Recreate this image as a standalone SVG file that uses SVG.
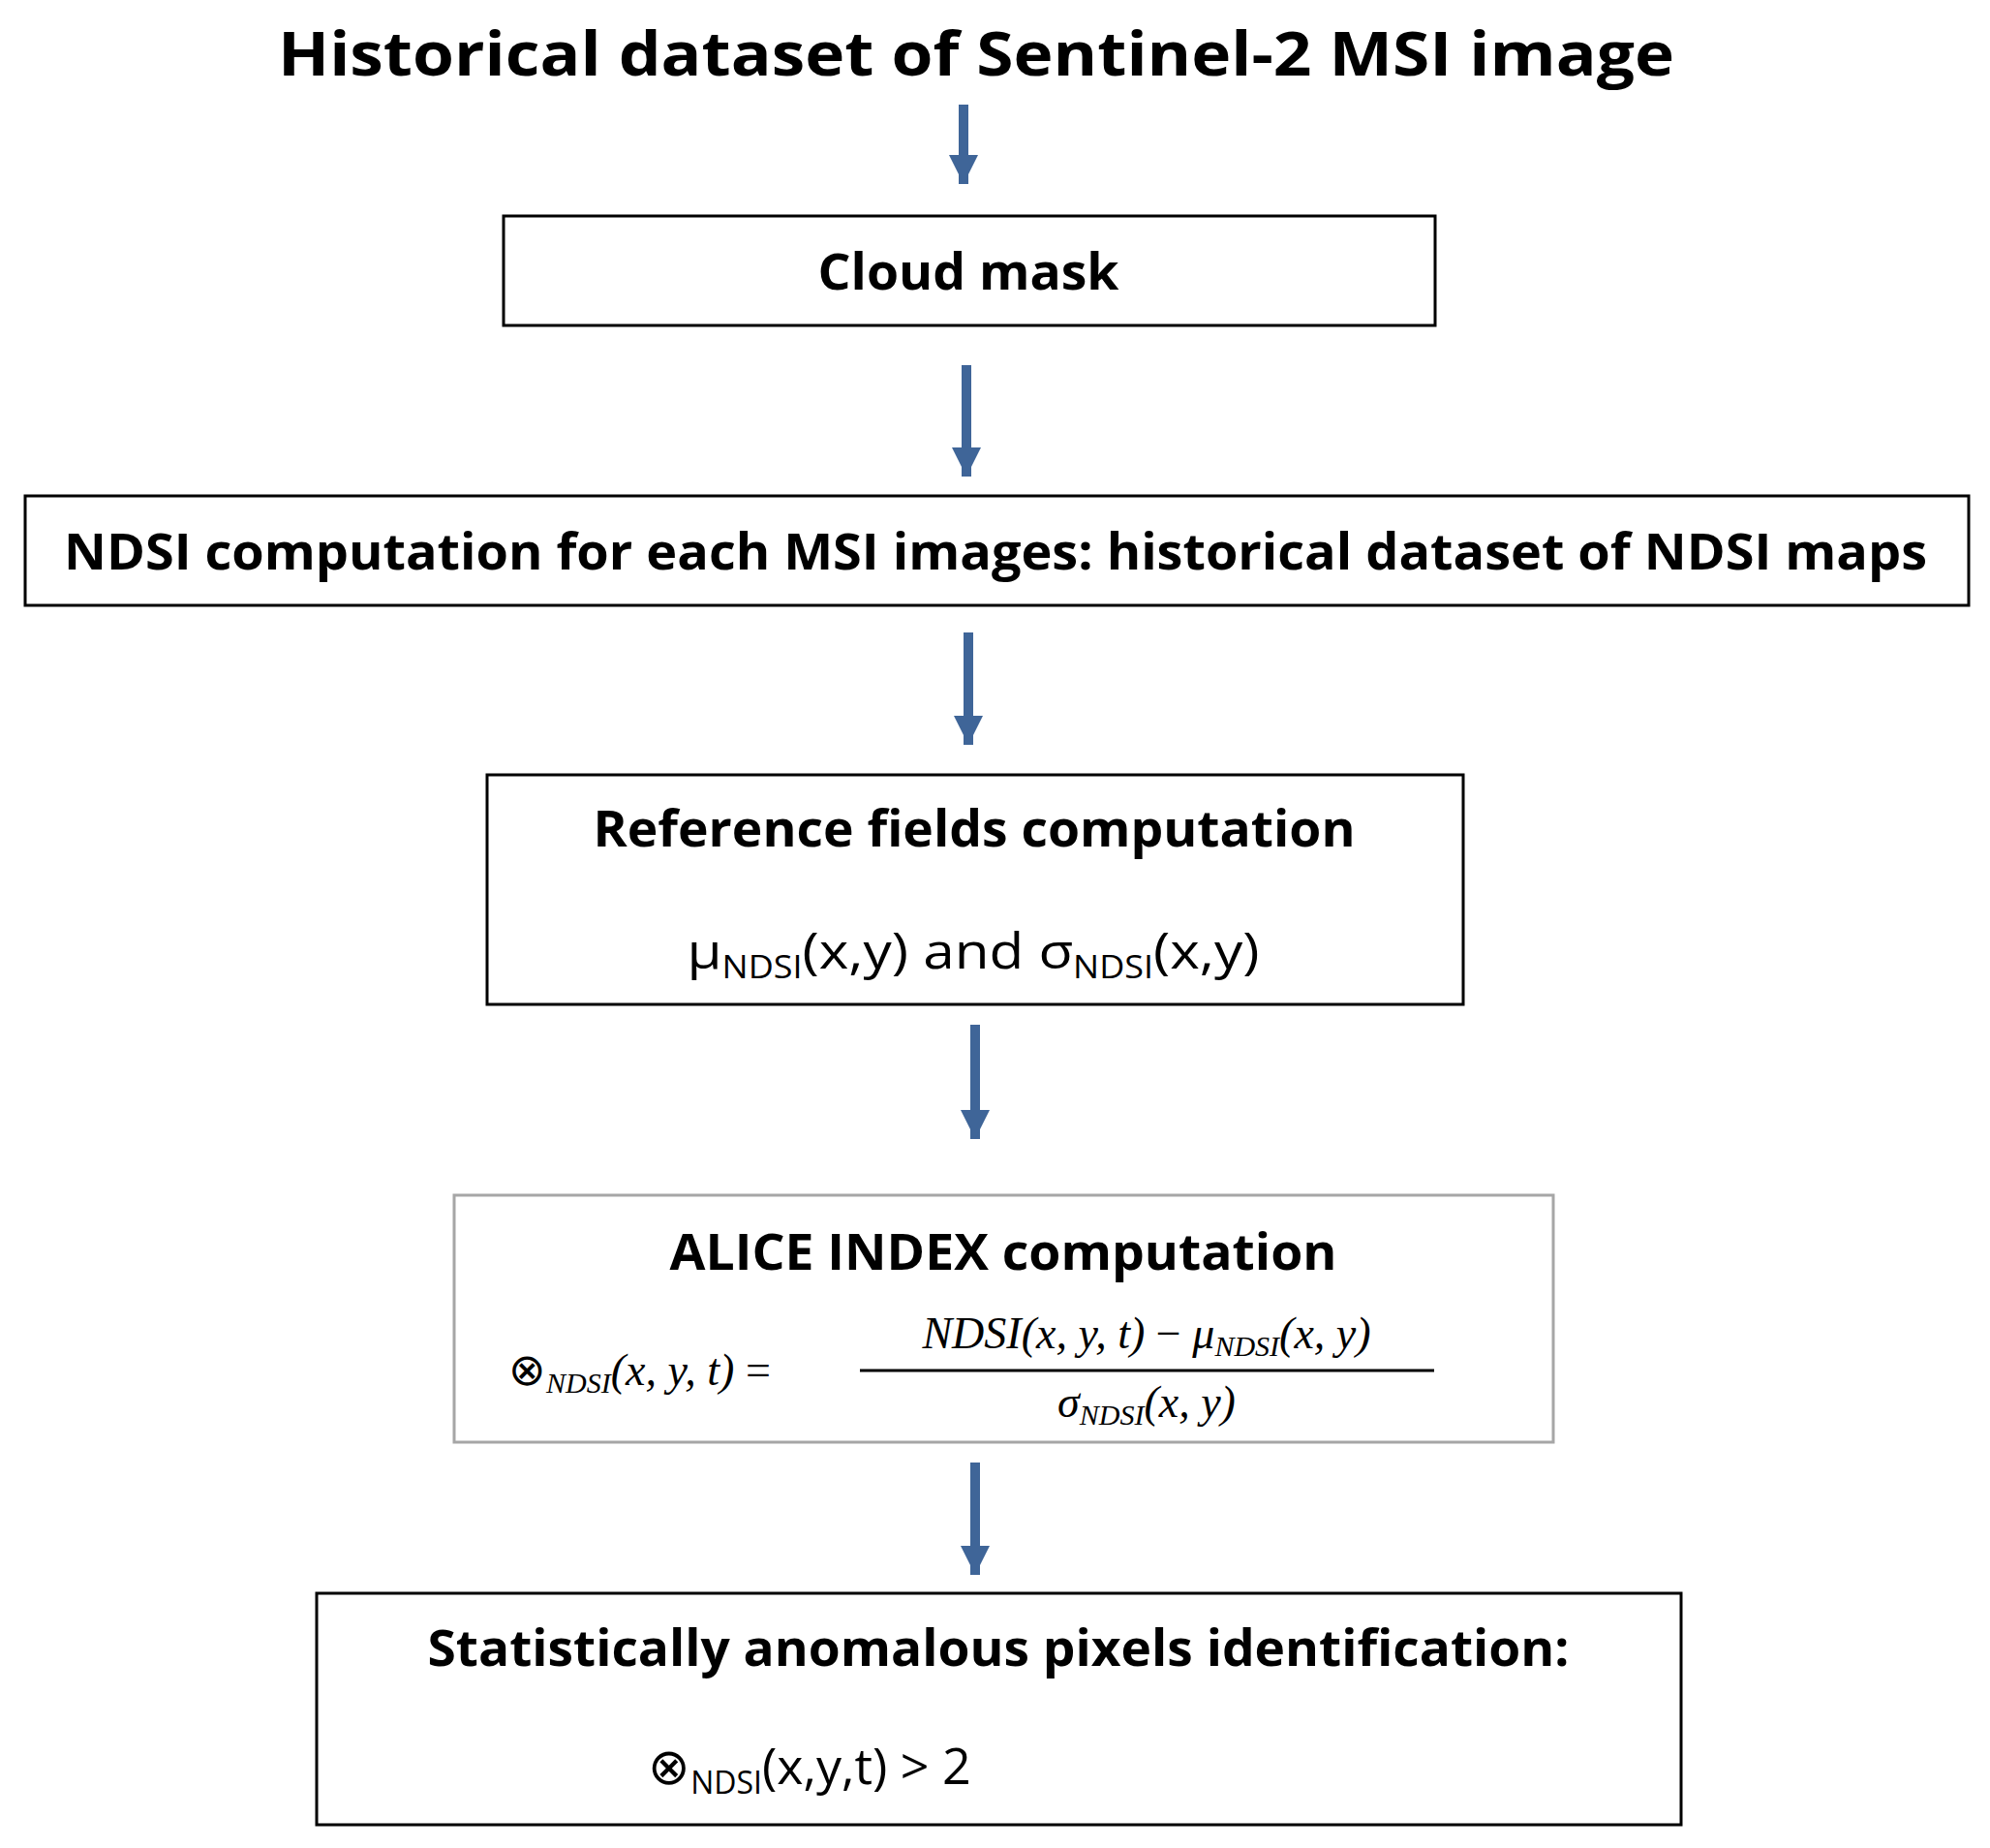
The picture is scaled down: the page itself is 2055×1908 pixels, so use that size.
<svg xmlns="http://www.w3.org/2000/svg" width="2055" height="1908" viewBox="0 0 2055 1908">
<defs>
<marker id="ah" viewBox="0 0 10 10" refX="10" refY="5" markerWidth="3" markerHeight="3" markerUnits="strokeWidth" orient="auto"><path d="M0,0 L10,5 L0,10 z" fill="#3f6598"/></marker>
<style>
.box{fill:#fff;stroke:#000;stroke-width:3}
.gbox{fill:#fff;stroke:#a6a6a6;stroke-width:3}
.t{font-family:"Open Sans","Liberation Sans",sans-serif;font-weight:bold;fill:#000;text-anchor:middle}
.n{font-family:"Open Sans","Liberation Sans",sans-serif;fill:#000;text-anchor:middle}
.m{font-family:"Liberation Serif",serif;font-style:italic;fill:#000}
.c{stroke:#3f6598;stroke-width:10;fill:none;marker-end:url(#ah)}
</style>
</defs>
<g id="title"><text class="t" x="1008" y="78" font-size="62" textLength="1442" lengthAdjust="spacingAndGlyphs">Historical dataset of Sentinel-2 MSI image</text></g>
<g id="connectors">
<line class="c" x1="995" y1="108" x2="995" y2="190"/>
<line class="c" x1="998" y1="377" x2="998" y2="492"/>
<line class="c" x1="1000" y1="653" x2="1000" y2="769"/>
<line class="c" x1="1007" y1="1058" x2="1007" y2="1176"/>
<line class="c" x1="1007" y1="1510" x2="1007" y2="1626"/>
</g>
<g id="cloud"><rect class="box" x="520" y="223" width="962" height="113"/>
<text class="t" x="1000" y="299" font-size="52" textLength="311" lengthAdjust="spacingAndGlyphs">Cloud mask</text></g>
<g id="ndsi"><rect class="box" x="26" y="512" width="2007" height="113"/>
<text class="t" x="1028" y="588" font-size="52" textLength="1924" lengthAdjust="spacingAndGlyphs">NDSI computation for each MSI images: historical dataset of NDSI maps</text></g>
<g id="reference"><rect class="box" x="503" y="800" width="1008" height="237"/>
<text class="t" x="1006" y="874" font-size="52" textLength="787" lengthAdjust="spacingAndGlyphs">Reference fields computation</text>
<text class="n" x="1005" y="1000" font-size="52" textLength="591" lengthAdjust="spacingAndGlyphs">μ<tspan font-size="32" dy="10">NDSI</tspan><tspan dy="-10">(x,y) and σ</tspan><tspan font-size="32" dy="10">NDSI</tspan><tspan dy="-10">(x,y)</tspan></text></g>
<g id="alice"><rect class="gbox" x="469" y="1234" width="1135" height="255"/>
<text class="t" x="1036" y="1311" font-size="52" textLength="689" lengthAdjust="spacingAndGlyphs">ALICE INDEX computation</text>
<text class="m" x="525" y="1430" font-size="46"><tspan font-style="normal">⊗</tspan><tspan font-size="30" dy="8">NDSI</tspan><tspan dy="-8">(x, y, t)</tspan><tspan font-style="normal"> =</tspan></text>
<text class="m" x="1184" y="1392" font-size="46" text-anchor="middle">NDSI(x, y, t) <tspan font-style="normal">−</tspan> μ<tspan font-size="30" dy="8">NDSI</tspan><tspan dy="-8">(x, y)</tspan></text>
<line x1="888" y1="1415" x2="1481" y2="1415" stroke="#000" stroke-width="3"/>
<text class="m" x="1184" y="1463" font-size="46" text-anchor="middle">σ<tspan font-size="30" dy="8">NDSI</tspan><tspan dy="-8">(x, y)</tspan></text></g>
<g id="anomalous"><rect class="box" x="327" y="1645" width="1409" height="239"/>
<text class="t" x="1031" y="1720" font-size="52" textLength="1179" lengthAdjust="spacingAndGlyphs">Statistically anomalous pixels identification:</text>
<text class="n" x="836" y="1842" font-size="52">⊗<tspan font-size="32" dy="10">NDSI</tspan><tspan dy="-10">(x,y,t)  &gt; 2</tspan></text></g>
</svg>
